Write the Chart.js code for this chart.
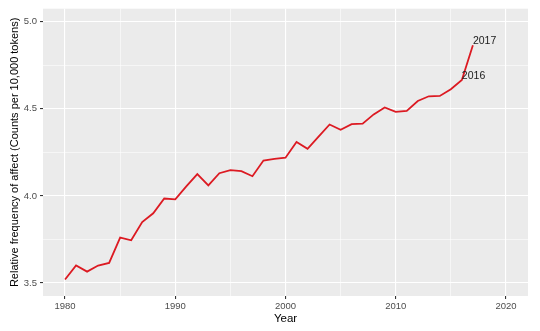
<!DOCTYPE html>
<html><head><meta charset="utf-8">
<script src="https://cdn.jsdelivr.net/npm/chart.js@4/dist/chart.umd.min.js"></script>
<style>html,body{margin:0;padding:0;background:#fff;}#wrap{width:540px;height:331px;}</style>
</head><body><div id="wrap"><canvas id="c" width="540" height="331"></canvas></div>
<script>
const years = [1980,1981,1982,1983,1984,1985,1986,1987,1988,1989,1990,1991,1992,1993,1994,1995,1996,1997,1998,1999,2000,2001,2002,2003,2004,2005,2006,2007,2008,2009,2010,2011,2012,2013,2014,2015,2016,2017];
const affect = [3.52,3.60,3.565,3.60,3.615,3.76,3.745,3.85,3.90,3.985,3.98,4.055,4.125,4.06,4.13,4.148,4.142,4.113,4.203,4.212,4.219,4.31,4.27,4.34,4.41,4.38,4.412,4.415,4.468,4.508,4.482,4.488,4.545,4.572,4.574,4.613,4.666,4.865];
const labelYears = [2016, 2017];
const xTickValues = [1980,1985,1990,1995,2000,2005,2010,2015,2020];
const yTickValues = [3.5,3.75,4.0,4.25,4.5,4.75,5.0];
const xTitle = 'Year';
const yTitle = 'Relative frequency of affect (Counts per 10,000 tokens)';

Chart.defaults.font.family = '"Liberation Sans", Arial, sans-serif';

const isMajorX = v => v % 10 === 0;
const isMajorY = v => Math.abs(v * 2 - Math.round(v * 2)) < 1e-9;

const panelBg = {
  id: 'panelBg',
  beforeDraw(chart) {
    const {ctx, chartArea: a} = chart;
    ctx.save();
    ctx.fillStyle = '#EBEBEB';
    ctx.fillRect(a.left, a.top, a.right - a.left, a.bottom - a.top);
    ctx.restore();
  }
};

const pointLabels = {
  id: 'pointLabels',
  afterDatasetsDraw(chart) {
    const {ctx, scales: {x, y}} = chart;
    ctx.save();
    ctx.font = '10.5px "Liberation Sans", Arial, sans-serif';
    ctx.fillStyle = '#1a1a1a';
    ctx.textAlign = 'left';
    ctx.textBaseline = 'middle';
    labelYears.forEach(yr => {
      const i = years.indexOf(yr);
      ctx.fillText(String(yr), x.getPixelForValue(yr), y.getPixelForValue(affect[i]) - 4);
    });
    ctx.restore();
  }
};

new Chart(document.getElementById('c'), {
  type: 'line',
  data: {
    datasets: [{
      data: years.map((yr, i) => ({x: yr, y: affect[i]})),
      borderColor: '#dc1a22',
      borderWidth: 1.8,
      pointRadius: 0,
      tension: 0,
      fill: false
    }]
  },
  options: {
    responsive: false,
    devicePixelRatio: 1,
    animation: false,
    layout: {padding: {left: 0, right: 12, top: 8, bottom: 0}},
    plugins: {legend: {display: false}, tooltip: {enabled: false}},
    scales: {
      x: {
        type: 'linear',
        min: 1978, max: 2022,
        afterBuildTicks: s => { s.ticks = xTickValues.map(v => ({value: v})); },
        afterFit: s => { s.height = 35; },
        border: {display: false},
        grid: {
          color: '#ffffff',
          lineWidth: c => isMajorX(c.tick.value) ? 1.1 : 0.55,
          tickColor: c => isMajorX(c.tick.value) ? '#333333' : 'rgba(0,0,0,0)',
          tickLength: 3
        },
        ticks: {
          autoSkip: false, maxRotation: 0, padding: 2,
          color: '#4d4d4d', font: {size: 9.5},
          callback: v => isMajorX(v) ? String(v) : ''
        },
        title: {display: true, text: xTitle, color: '#000', font: {size: 11.5}, padding: {top: 0, bottom: 5}}
      },
      y: {
        min: 3.425, max: 5.075,
        afterBuildTicks: s => { s.ticks = yTickValues.map(v => ({value: v})); },
        afterFit: s => { s.width = 43; },
        border: {display: false},
        grid: {
          color: '#ffffff',
          lineWidth: c => isMajorY(c.tick.value) ? 1.1 : 0.55,
          tickColor: c => isMajorY(c.tick.value) ? '#333333' : 'rgba(0,0,0,0)',
          tickLength: 3
        },
        ticks: {
          padding: 3, color: '#4d4d4d', font: {size: 9.5},
          callback: v => isMajorY(v) ? v.toFixed(1) : ''
        },
        title: {display: true, text: yTitle, color: '#000', font: {size: 11}, padding: {top: 8, bottom: 0}}
      }
    }
  },
  plugins: [panelBg, pointLabels]
});
</script>
</body></html>
